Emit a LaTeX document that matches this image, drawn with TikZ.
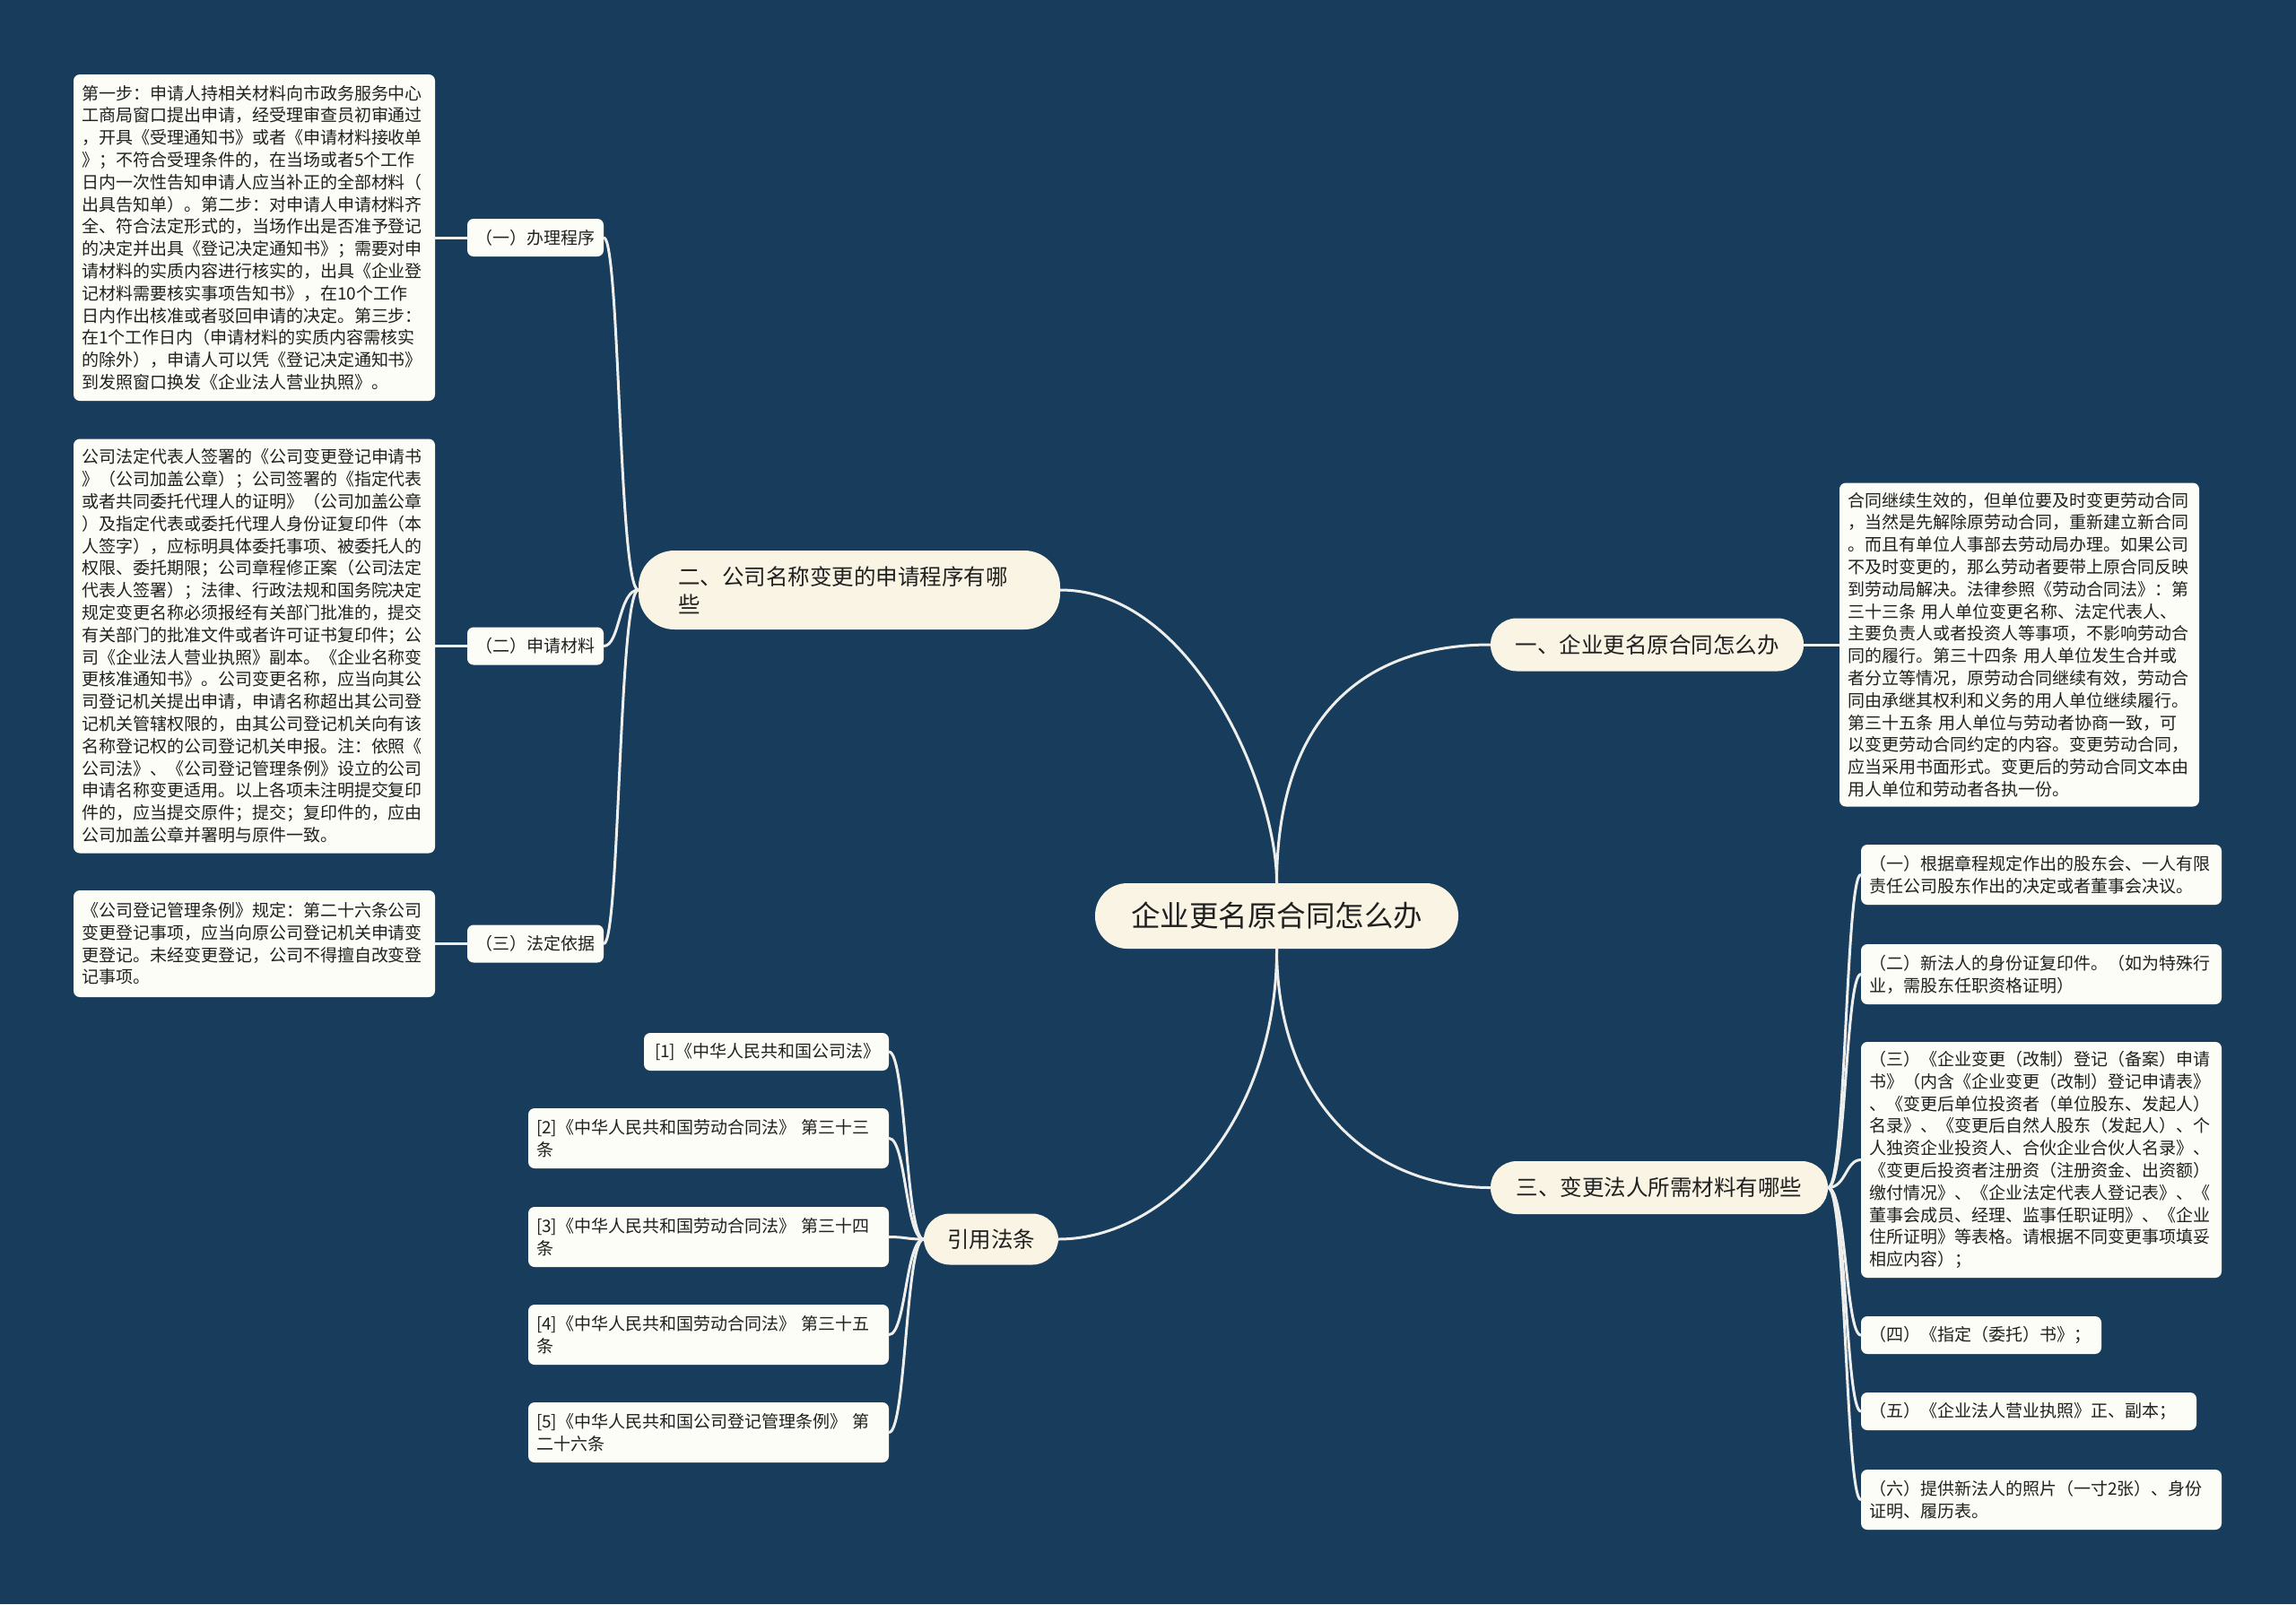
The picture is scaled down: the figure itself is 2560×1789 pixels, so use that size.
\documentclass[tikz,border=0pt]{standalone}
\usepackage{fontspec}
\newfontfamily\cjk{Noto Sans CJK SC}
\definecolor{bgcol}{RGB}{24,60,92}
\definecolor{linecol}{RGB}{238,238,236}
\definecolor{mainfill}{RGB}{249,244,227}
\definecolor{leaffill}{RGB}{253,253,247}
\definecolor{txt}{RGB}{32,32,32}
\tikzset{
  conn/.style={draw=linecol, line width=3pt, line cap=round},
  rootbox/.style={fill=mainfill, rounded corners=36pt, text=txt, inner sep=0pt,
    font=\cjk\fontsize{32.5}{40}\selectfont, minimum width=405pt, minimum height=73pt},
  mainbox/.style={fill=mainfill, rounded corners=29pt, text=txt, inner sep=0pt,
    font=\cjk\fontsize{24.5}{31}\selectfont, minimum height=59pt},
  subbox/.style={fill=leaffill, rounded corners=7pt, text=txt, inner sep=0pt,
    font=\cjk\fontsize{19}{24.8}\selectfont, minimum width=152pt, minimum height=42pt},
  leafbox/.style={fill=leaffill, rounded corners=7pt, text=txt, inner xsep=9pt, inner ysep=6pt,
    align=left, font=\cjk\fontsize{19}{24.8}\selectfont},
}
\begin{document}
\begin{tikzpicture}[x=1pt,y=-1pt]
\fill[bgcol] (0,0) rectangle (2560,1789);
\useasboundingbox (0,0) rectangle (2560,1789);

% root and main branches
\node[rootbox] (root) at (1423.5,1021.5) {企业更名原合同怎么办};
\node[mainbox, minimum height=88pt, rounded corners=40pt, text width=382pt, inner xsep=44pt, align=left] (n2) at (947,658) {二、公司名称变更的申请程序有哪\\些};
\node[mainbox, minimum width=349pt] (n1) at (1836.5,719) {一、企业更名原合同怎么办};
\node[mainbox, minimum width=376pt] (n3) at (1850,1324.5) {三、变更法人所需材料有哪些};
\node[mainbox, minimum width=150pt, minimum height=57pt] (ncite) at (1105,1382) {引用法条};

% left sub nodes
\node[subbox] (a1) at (597,265) {（一）办理程序};
\node[subbox] (a2) at (597,720.5) {（二）申请材料};
\node[subbox] (a3) at (597,1052.5) {（三）法定依据};

% left leaf boxes
\node[leafbox, text width=385pt, minimum height=364pt] (box1) at (283.5,265) {第一步：申请人持相关材料向市政务服务中心\\工商局窗口提出申请，经受理审查员初审通过\\，开具《受理通知书》或者《申请材料接收单\\》；不符合受理条件的，在当场或者5个工作\\日内一次性告知申请人应当补正的全部材料（\\出具告知单）。第二步：对申请人申请材料齐\\全、符合法定形式的，当场作出是否准予登记\\的决定并出具《登记决定通知书》；需要对申\\请材料的实质内容进行核实的，出具《企业登\\记材料需要核实事项告知书》，在10个工作\\日内作出核准或者驳回申请的决定。第三步：\\在1个工作日内（申请材料的实质内容需核实\\的除外），申请人可以凭《登记决定通知书》\\到发照窗口换发《企业法人营业执照》。};

\node[leafbox, text width=385pt, minimum height=462pt] (box2) at (283.5,720.5) {公司法定代表人签署的《公司变更登记申请书\\》（公司加盖公章）；公司签署的《指定代表\\或者共同委托代理人的证明》（公司加盖公章\\）及指定代表或委托代理人身份证复印件（本\\人签字），应标明具体委托事项、被委托人的\\权限、委托期限；公司章程修正案（公司法定\\代表人签署）；法律、行政法规和国务院决定\\规定变更名称必须报经有关部门批准的，提交\\有关部门的批准文件或者许可证书复印件；公\\司《企业法人营业执照》副本。《企业名称变\\更核准通知书》。公司变更名称，应当向其公\\司登记机关提出申请，申请名称超出其公司登\\记机关管辖权限的，由其公司登记机关向有该\\名称登记权的公司登记机关申报。注：依照《\\公司法》、《公司登记管理条例》设立的公司\\申请名称变更适用。以上各项未注明提交复印\\件的，应当提交原件；提交；复印件的，应由\\公司加盖公章并署明与原件一致。};

\node[leafbox, text width=385pt, minimum height=119pt] (box3) at (283.5,1052.5) {《公司登记管理条例》规定：第二十六条公司\\变更登记事项，应当向原公司登记机关申请变\\更登记。未经变更登记，公司不得擅自改变登\\记事项。};

% right leaf of n1
\node[leafbox, text width=383pt, minimum height=361pt] (r1) at (2251.5,719) {合同继续生效的，但单位要及时变更劳动合同\\，当然是先解除原劳动合同，重新建立新合同\\。而且有单位人事部去劳动局办理。如果公司\\不及时变更的，那么劳动者要带上原合同反映\\到劳动局解决。法律参照《劳动合同法》：第\\三十三条~用人单位变更名称、法定代表人、\\主要负责人或者投资人等事项，不影响劳动合\\同的履行。第三十四条~用人单位发生合并或\\者分立等情况，原劳动合同继续有效，劳动合\\同由承继其权利和义务的用人单位继续履行。\\第三十五条~用人单位与劳动者协商一致，可\\以变更劳动合同约定的内容。变更劳动合同，\\应当采用书面形式。变更后的劳动合同文本由\\用人单位和劳动者各执一份。};

% leaves of n3
\node[leafbox, text width=384pt, minimum height=67pt] (b1) at (2276,975.5) {（一）根据章程规定作出的股东会、一人有限\\责任公司股东作出的决定或者董事会决议。};
\node[leafbox, text width=384pt, minimum height=67pt] (b2) at (2276,1086.5) {（二）新法人的身份证复印件。（如为特殊行\\业，需股东任职资格证明）};
\node[leafbox, text width=384pt, minimum height=263pt] (b3) at (2276,1293.5) {（三）《企业变更（改制）登记（备案）申请\\书》（内含《企业变更（改制）登记申请表》\\、《变更后单位投资者（单位股东、发起人）\\名录》、《变更后自然人股东（发起人）、个\\人独资企业投资人、合伙企业合伙人名录》、\\《变更后投资者注册资（注册资金、出资额）\\缴付情况》、《企业法定代表人登记表》、《\\董事会成员、经理、监事任职证明》、《企业\\住所证明》等表格。请根据不同变更事项填妥\\相应内容）；};
\node[leafbox, text width=250pt, minimum height=42pt] (b4) at (2209,1489) {（四）《指定（委托）书》；};
\node[leafbox, text width=356pt, minimum height=42pt] (b5) at (2262,1574) {（五）《企业法人营业执照》正、副本；};
\node[leafbox, text width=384pt, minimum height=67pt] (b6) at (2276,1672.5) {（六）提供新法人的照片（一寸2张）、身份\\证明、履历表。};

% citation leaves
\node[leafbox, inner xsep=12pt, text width=249pt, minimum height=42pt] (c1) at (854.5,1173) {[1]《中华人民共和国公司法》};
\node[leafbox, text width=384pt, minimum height=67pt] (c2) at (790,1269.5) {[2]《中华人民共和国劳动合同法》~第三十三\\条};
\node[leafbox, text width=384pt, minimum height=67pt] (c3) at (790,1379.5) {[3]《中华人民共和国劳动合同法》~第三十四\\条};
\node[leafbox, text width=384pt, minimum height=67pt] (c4) at (790,1488.5) {[4]《中华人民共和国劳动合同法》~第三十五\\条};
\node[leafbox, text width=384pt, minimum height=67pt] (c5) at (790,1597.5) {[5]《中华人民共和国公司登记管理条例》~第\\二十六条};

% root connectors
\draw[conn] (root.north) .. controls (1424,880) and (1330,658) .. (n2.east);
\draw[conn] (root.north) .. controls (1424,800) and (1520,719) .. (n1.west);
\draw[conn] (root.south) .. controls (1424,1230) and (1530,1324.5) .. (n3.west);
\draw[conn] (root.south) .. controls (1424,1250) and (1300,1382) .. (ncite.east);

% n2 to sub nodes
\foreach \c in {a1,a2,a3}{
  \draw[conn] (\c.east) .. controls ([xshift=18pt]\c.east) and ([xshift=-22pt]n2.west) .. (n2.west);
}
% sub nodes to leaf boxes
\draw[conn] (box1.east) -- (a1.west);
\draw[conn] (box2.east) -- (a2.west);
\draw[conn] (box3.east) -- (a3.west);

% n1 to its leaf
\draw[conn] (n1.east) -- (r1.west);

% n3 to leaves
\foreach \c in {b1,b2,b3,b4,b5,b6}{
  \draw[conn] (n3.east) .. controls ([xshift=20pt]n3.east) and ([xshift=-17pt]\c.west) .. (\c.west);
}

% citations
\foreach \c in {c1,c2,c3,c4,c5}{
  \draw[conn] (\c.east) .. controls ([xshift=19pt]\c.east) and ([xshift=-20pt]ncite.west) .. (ncite.west);
}
\end{tikzpicture}
\end{document}
